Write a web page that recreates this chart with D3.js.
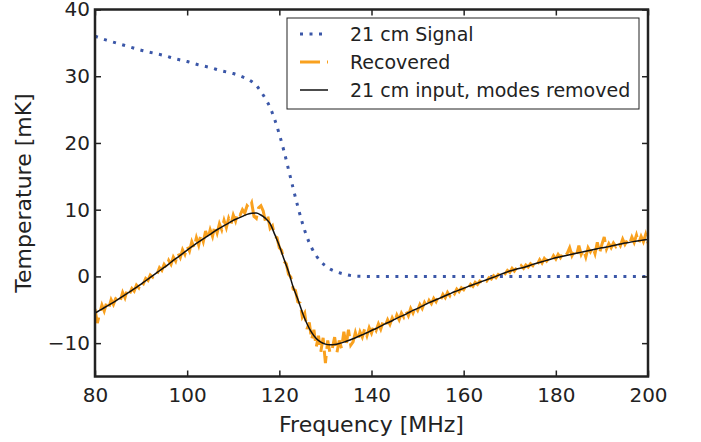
<!DOCTYPE html>
<html>
<head>
<meta charset="utf-8">
<script src="https://cdn.jsdelivr.net/npm/d3@7"></script>
<style>
  body { margin: 0; background: #fff; }
  svg { display: block; }
  text { font-family: "DejaVu Sans", sans-serif; fill: #222; }
</style>
</head>
<body>
<svg id="chart" width="701" height="442"></svg>
<script>
// 21 cm signal (dotted blue), irregular sampling
const signalFreq = [80, 82.5, 85, 87.5, 90, 92.5, 95, 97.5, 100, 102.5, 105, 107.5, 110, 112, 114,
  115, 116, 117, 118, 119, 120, 121, 122, 123, 124, 125, 126, 127, 128, 129, 130, 131, 132, 134,
  136, 138, 140, 150, 160, 170, 180, 190, 200];
const signalTemp = [36.0, 35.4, 34.9, 34.4, 33.9, 33.5, 33.1, 32.6, 32.2, 31.7, 31.3, 30.8, 30.4, 29.9, 29.2,
  28.6, 27.7, 26.6, 25.3, 23.5, 21.3, 18.8, 16.0, 13.2, 10.5, 8.0, 5.9, 4.3, 3.1, 2.2, 1.6, 1.1, 0.78, 0.36,
  0.08, 0.02, 0, 0, 0, 0, 0, 0, 0];

// 21 cm input with modes removed (solid black), 1 MHz steps from 80 to 200
const inputStart = 80, inputStep = 1;
const inputTemp = [
  -5.5, -5.1, -4.7, -4.3, -3.9, -3.45, -3.0, -2.55, -2.1, -1.65,
  -1.15, -0.65, -0.15, 0.35, 0.85, 1.35, 1.85, 2.4, 2.9, 3.4,
  3.95, 4.45, 4.95, 5.4, 5.85, 6.3, 6.8, 7.2, 7.6, 8.0,
  8.4, 8.7, 9.0, 9.3, 9.45, 9.5, 9.2, 8.7, 7.9, 6.3,
  4.6, 2.6, 0.7, -1.6, -3.4, -5.4, -7.1, -8.4, -9.3, -9.85,
  -10.15, -10.25, -10.2, -10.05, -9.85, -9.6, -9.35, -9.05, -8.75, -8.45,
  -8.1, -7.8, -7.45, -7.1, -6.8, -6.45, -6.1, -5.8, -5.45, -5.1,
  -4.8, -4.45, -4.1, -3.8, -3.5, -3.2, -2.9, -2.6, -2.3, -2.05,
  -1.8, -1.5, -1.25, -1.0, -0.75, -0.5, -0.25, 0.0, 0.3, 0.55,
  0.8, 1.0, 1.2, 1.35, 1.55, 1.8, 2.0, 2.2, 2.4, 2.6,
  2.8, 2.95, 3.1, 3.25, 3.4, 3.55, 3.7, 3.85, 4.0, 4.15,
  4.3, 4.4, 4.55, 4.7, 4.85, 5.0, 5.1, 5.25, 5.35, 5.45,
  5.55
];

// recovered signal (dashed orange), 0.5 MHz steps from 80 to 200
const recStart = 80, recStep = 0.5;
const recTemp = [
  -4.9, -7.0, -5.6, -4.3, -5.2, -4.0, -4.7, -3.5, -4.2, -3.3,
  -3.0, -3.6, -2.4, -3.2, -2.0, -2.6, -1.8, -2.2, -1.3, -1.7,
  -0.8, -1.1, -0.3, -0.6, 0.2, -0.1, 0.6, 0.4, 1.3, 0.9,
  1.8, 1.3, 2.4, 1.8, 2.9, 2.3, 3.5, 2.8, 4.0, 3.3,
  4.5, 3.8, 5.2, 4.3, 5.8, 4.7, 6.3, 5.2, 6.8, 5.6,
  7.0, 6.0, 7.6, 6.5, 7.9, 7.0, 8.4, 7.3, 8.7, 7.8,
  9.2, 8.3, 9.6, 9.2, 10.0, 9.5, 10.6, 10.2, 11.0, 9.0,
  8.7, 10.3, 10.6, 9.8, 8.2, 9.0, 7.2, 7.6, 6.0, 5.8,
  4.3, 3.9, 2.3, 1.9, 0.3, -0.1, -1.9, -2.1, -3.8, -4.0,
  -6.1, -5.5, -7.9, -6.9, -9.5, -8.0, -10.6, -8.9, -11.3, -9.2,
  -13.0, -9.6, -11.5, -10.8, -9.1, -11.4, -9.6, -10.8, -8.3, -10.4,
  -8.0, -10.3, -9.8, -8.4, -9.6, -8.3, -9.1, -7.9, -8.9, -7.7,
  -8.5, -7.4, -8.1, -7.1, -7.9, -6.8, -7.4, -6.5, -7.2, -6.2,
  -6.9, -5.8, -6.5, -5.5, -6.1, -5.2, -5.9, -4.8, -5.5, -4.6,
  -5.1, -4.2, -4.8, -3.9, -4.5, -3.6, -4.1, -3.3, -3.8, -3.0,
  -3.5, -2.7, -3.2, -2.4, -2.9, -2.2, -2.6, -1.9, -2.3, -1.7,
  -2.0, -1.4, -1.8, -1.2, -1.5, -0.9, -1.2, -0.7, -0.9, -0.4,
  -0.7, -0.2, -0.4, 0.1, -0.2, 0.3, 0.1, 0.6, 0.4, 0.9,
  0.6, 1.2, 0.8, 1.3, 1.0, 1.6, 1.2, 1.7, 1.4, 1.9,
  1.6, 2.2, 1.8, 2.5, 2.0, 2.7, 2.3, 2.8, 2.4, 3.1,
  2.6, 3.3, 2.8, 3.4, 3.0, 3.5, 4.3, 3.1, 3.8, 3.2,
  4.6, 3.3, 4.0, 2.9, 4.3, 3.7, 4.4, 3.4, 5.1, 3.5,
  4.8, 5.9, 4.1, 4.9, 4.3, 5.0, 4.5, 5.2, 4.6, 5.6,
  4.8, 5.4, 4.9, 5.9, 5.1, 6.2, 5.0, 6.0, 5.2, 6.3,
  5.0
];

const xTicks = [80, 100, 120, 140, 160, 180, 200];
const yTicks = [-10, 0, 10, 20, 30, 40];
const legendLabels = ["21 cm Signal", "Recovered", "21 cm input, modes removed"];

const colors = { signal: "#3b57a8", recovered: "#f9a11f", input: "#111" };

const svg = d3.select("#chart");
const plotLeft = 95, plotRight = 648, plotTop = 9.5, plotBottom = 376.5;

const x = d3.scaleLinear().domain([80, 200]).range([plotLeft, plotRight]);
const y = d3.scaleLinear().domain([-15, 40]).range([plotBottom, plotTop]);

const signal = signalFreq.map((f, i) => [f, signalTemp[i]]);
const input = inputTemp.map((t, i) => [inputStart + i * inputStep, t]);
const recovered = recTemp.map((t, i) => [recStart + i * recStep, t]);

svg.append("defs").append("clipPath").attr("id", "clip")
  .append("rect")
  .attr("x", plotLeft).attr("y", plotTop)
  .attr("width", plotRight - plotLeft).attr("height", plotBottom - plotTop);

const plot = svg.append("g").attr("clip-path", "url(#clip)");

plot.append("path")
  .datum(signal)
  .attr("fill", "none")
  .attr("stroke", colors.signal)
  .attr("stroke-width", 3)
  .attr("stroke-dasharray", "3,6.5")
  .attr("d", d3.line().x(d => x(d[0])).y(d => y(d[1])).curve(d3.curveMonotoneX));

plot.append("path")
  .datum(recovered)
  .attr("fill", "none")
  .attr("stroke", colors.recovered)
  .attr("stroke-width", 3)
  .attr("stroke-dasharray", "20,7")
  .attr("d", d3.line().x(d => x(d[0])).y(d => y(d[1])));

plot.append("path")
  .datum(input)
  .attr("fill", "none")
  .attr("stroke", colors.input)
  .attr("stroke-width", 1.5)
  .attr("d", d3.line().x(d => x(d[0])).y(d => y(d[1])).curve(d3.curveMonotoneX));

// axes, ticks pointing inward on all four sides
function styleAxis(g) {
  g.select(".domain").remove();
  g.selectAll(".tick line").attr("stroke", "#222").attr("stroke-width", 1.5);
  g.selectAll(".tick text").style("font-size", "20px").attr("fill", "#222");
}

svg.append("g")
  .attr("transform", `translate(0,${plotBottom})`)
  .call(d3.axisBottom(x).tickValues(xTicks).tickSize(-6).tickPadding(11))
  .call(styleAxis);

svg.append("g")
  .attr("transform", `translate(0,${plotTop})`)
  .call(d3.axisTop(x).tickValues(xTicks).tickSize(-6).tickFormat(""))
  .call(styleAxis);

svg.append("g")
  .attr("transform", `translate(${plotLeft},0)`)
  .call(d3.axisLeft(y).tickValues(yTicks).tickSize(-6).tickPadding(5).tickFormat(d => d < 0 ? "\u2212" + Math.abs(d) : d))
  .call(styleAxis);

svg.append("g")
  .attr("transform", `translate(${plotRight},0)`)
  .call(d3.axisRight(y).tickValues(yTicks).tickSize(-6).tickFormat(""))
  .call(styleAxis);

svg.append("rect")
  .attr("x", plotLeft).attr("y", plotTop)
  .attr("width", plotRight - plotLeft).attr("height", plotBottom - plotTop)
  .attr("fill", "none")
  .attr("stroke", "#222")
  .attr("stroke-width", 2.5);

svg.append("text")
  .attr("x", (plotLeft + plotRight) / 2).attr("y", 432)
  .attr("text-anchor", "middle")
  .style("font-size", "22px")
  .text("Frequency [MHz]");

svg.append("text")
  .attr("transform", `translate(31,${(plotTop + plotBottom) / 2}) rotate(-90)`)
  .attr("text-anchor", "middle")
  .style("font-size", "22px")
  .text("Temperature [mK]");

// legend
const legend = svg.append("g");
legend.append("rect")
  .attr("x", 287).attr("y", 18)
  .attr("width", 352).attr("height", 91)
  .attr("fill", "#fff")
  .attr("stroke", "#222")
  .attr("stroke-width", 1);

const handles = [
  { color: colors.signal, width: 3, dash: "3,6.5" },
  { color: colors.recovered, width: 3, dash: "20,7" },
  { color: colors.input, width: 1.5, dash: null }
];

legendLabels.forEach((label, i) => {
  const cy = 34 + i * 28;
  legend.append("line")
    .attr("x1", 300).attr("x2", 328)
    .attr("y1", cy).attr("y2", cy)
    .attr("stroke", handles[i].color)
    .attr("stroke-width", handles[i].width)
    .attr("stroke-dasharray", handles[i].dash);
  legend.append("text")
    .attr("x", 350).attr("y", cy + 7)
    .style("font-size", "19px")
    .text(label);
});
</script>
</body>
</html>
